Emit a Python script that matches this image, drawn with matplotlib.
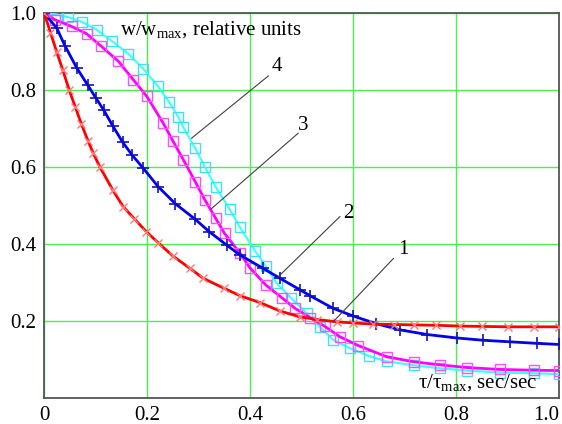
import matplotlib
matplotlib.use("Agg")
import matplotlib.pyplot as plt

plt.rcParams['font.family'] = ['Liberation Serif', 'DejaVu Serif']
plt.rcParams['mathtext.fontset'] = 'custom'
plt.rcParams['mathtext.rm'] = 'Liberation Serif'
plt.rcParams['mathtext.it'] = 'Liberation Serif:italic'

# curve 1 (red, x markers)
x1 = [0, 0.012, 0.024, 0.036, 0.0485, 0.06, 0.072, 0.085, 0.095, 0.108, 0.133, 0.153,
      0.175, 0.198, 0.221, 0.25, 0.283, 0.309, 0.348, 0.38, 0.419, 0.458, 0.496, 0.53,
      0.568, 0.6, 0.639, 0.68, 0.717, 0.76, 0.807, 0.85, 0.9, 0.95, 1.0]
y1 = [1.0, 0.95, 0.9, 0.852, 0.8, 0.757, 0.712, 0.668, 0.636, 0.6, 0.54, 0.497,
      0.465, 0.432, 0.403, 0.368, 0.336, 0.31, 0.285, 0.265, 0.247, 0.225, 0.21, 0.203,
      0.197, 0.194, 0.191, 0.19, 0.189, 0.188, 0.186, 0.185, 0.184, 0.184, 0.184]

# curve 2 (blue, + markers)
x2 = [0, 0.024, 0.04, 0.063, 0.084, 0.1, 0.115, 0.133, 0.152, 0.17, 0.192, 0.221, 0.254,
      0.293, 0.32, 0.354, 0.38, 0.425, 0.458, 0.497, 0.516, 0.561, 0.6, 0.645, 0.691,
      0.743, 0.801, 0.852, 0.904, 0.956, 1.0]
y2 = [1.0, 0.962, 0.916, 0.858, 0.814, 0.78, 0.749, 0.707, 0.665, 0.632, 0.597, 0.549, 0.505,
      0.464, 0.432, 0.397, 0.371, 0.336, 0.31, 0.28, 0.265, 0.232, 0.212, 0.192, 0.176,
      0.164, 0.155, 0.149, 0.145, 0.141, 0.138]

# curve 3 (magenta, squares)
x3 = [0, 0.021, 0.053, 0.082, 0.111, 0.144, 0.173, 0.199, 0.231, 0.25, 0.27, 0.293, 0.312,
      0.333, 0.35, 0.38, 0.399, 0.43, 0.461, 0.487, 0.516, 0.545, 0.574, 0.61, 0.665,
      0.717, 0.768, 0.82, 0.885, 0.95, 1.0]
y3 = [1.0, 0.983, 0.966, 0.947, 0.914, 0.875, 0.827, 0.784, 0.714, 0.667, 0.619, 0.562, 0.514,
      0.466, 0.427, 0.376, 0.338, 0.293, 0.26, 0.232, 0.208, 0.185, 0.158, 0.135, 0.106,
      0.093, 0.085, 0.078, 0.073, 0.071, 0.07]

# curve 4 (cyan, squares)
x4 = [0, 0.024, 0.047, 0.073, 0.102, 0.131, 0.163, 0.192, 0.221, 0.242, 0.26, 0.27, 0.293,
      0.312, 0.333, 0.36, 0.38, 0.409, 0.43, 0.451, 0.48, 0.51, 0.535, 0.561, 0.594, 0.63,
      0.665, 0.717, 0.768, 0.82, 0.885, 0.95, 1.0]
y4 = [1.0, 0.997, 0.99, 0.978, 0.957, 0.928, 0.895, 0.856, 0.81, 0.77, 0.731, 0.703, 0.649,
      0.6, 0.548, 0.49, 0.443, 0.382, 0.342, 0.298, 0.258, 0.219, 0.184, 0.15, 0.128, 0.108,
      0.094, 0.084, 0.076, 0.07, 0.065, 0.063, 0.061]

xticks = [0, 0.2, 0.4, 0.6, 0.8, 1.0]
xlabels = ['0', '0.2', '0.4', '0.6', '0.8', '1.0']
yticks = [0.2, 0.4, 0.6, 0.8, 1.0]
ylabels = ['0.2', '0.4', '0.6', '0.8', '1.0']

# curve labels: text, text position, leader start, leader end
labels = ['1', '2', '3', '4']
label_xy = [(0.697, 0.384), (0.59, 0.479), (0.503, 0.709), (0.451, 0.861)]
lead_from = [(0.561, 0.197), (0.454, 0.314), (0.325, 0.492), (0.286, 0.675)]
lead_to = [(0.678, 0.362), (0.574, 0.471), (0.493, 0.688), (0.435, 0.837)]

fig = plt.figure(figsize=(5.62, 4.24), dpi=100)
ax = fig.add_axes([0.0788, 0.0625, 0.9164, 0.906])

ax.set_xlim(0, 1)
ax.set_ylim(0, 1)
ax.set_xticks(xticks)
ax.set_xticklabels(xlabels)
ax.set_yticks(yticks)
ax.set_yticklabels(ylabels)
ax.tick_params(length=0, labelsize=15, pad=6)
ax.get_xticklabels()[-1].set_horizontalalignment('right')
ax.grid(True, color='#4cf04c', lw=1.0)
ax.set_axisbelow(True)
for s in ax.spines.values():
    s.set_color('#555555')
    s.set_linewidth(1.3)

ax.plot(x4, y4, color='#40ffff', lw=1.6, zorder=3)
ax.plot(x4, y4, ls='none', marker='s', ms=6.5, mfc='none', mec='#40e0f0', mew=1.0, zorder=3)
ax.plot(x3, y3, color='#ff00ff', lw=2, zorder=4)
ax.plot(x3, y3, ls='none', marker='s', ms=6.5, mfc='none', mec='#ff50ff', mew=1.0, zorder=4)
ax.plot(x2, y2, color='#0000f0', lw=2, zorder=5)
ax.plot(x2, y2, ls='none', marker='+', ms=8, mec='#1010c0', mew=1.2, zorder=5)
ax.plot(x1, y1, color='#ff0000', lw=2, zorder=6)
ax.plot(x1, y1, ls='none', marker='x', ms=6, mec='#ff7878', mew=1.0, zorder=6)

for t, p, a, b in zip(labels, label_xy, lead_from, lead_to):
    ax.plot([a[0], b[0]], [a[1], b[1]], color='#404040', lw=0.8, zorder=7)
    ax.text(p[0], p[1], t, fontsize=15, ha='center', va='center', zorder=8)

ax.text(0.147, 0.945, r'w/w$_{\mathrm{max}}$, relative units', fontsize=15,
        ha='left', va='baseline')
ax.text(0.726, 0.025, r'τ/τ$_{\mathrm{max}}$, sec/sec', fontsize=15,
        ha='left', va='baseline')

fig.savefig('out.png', dpi=100)
